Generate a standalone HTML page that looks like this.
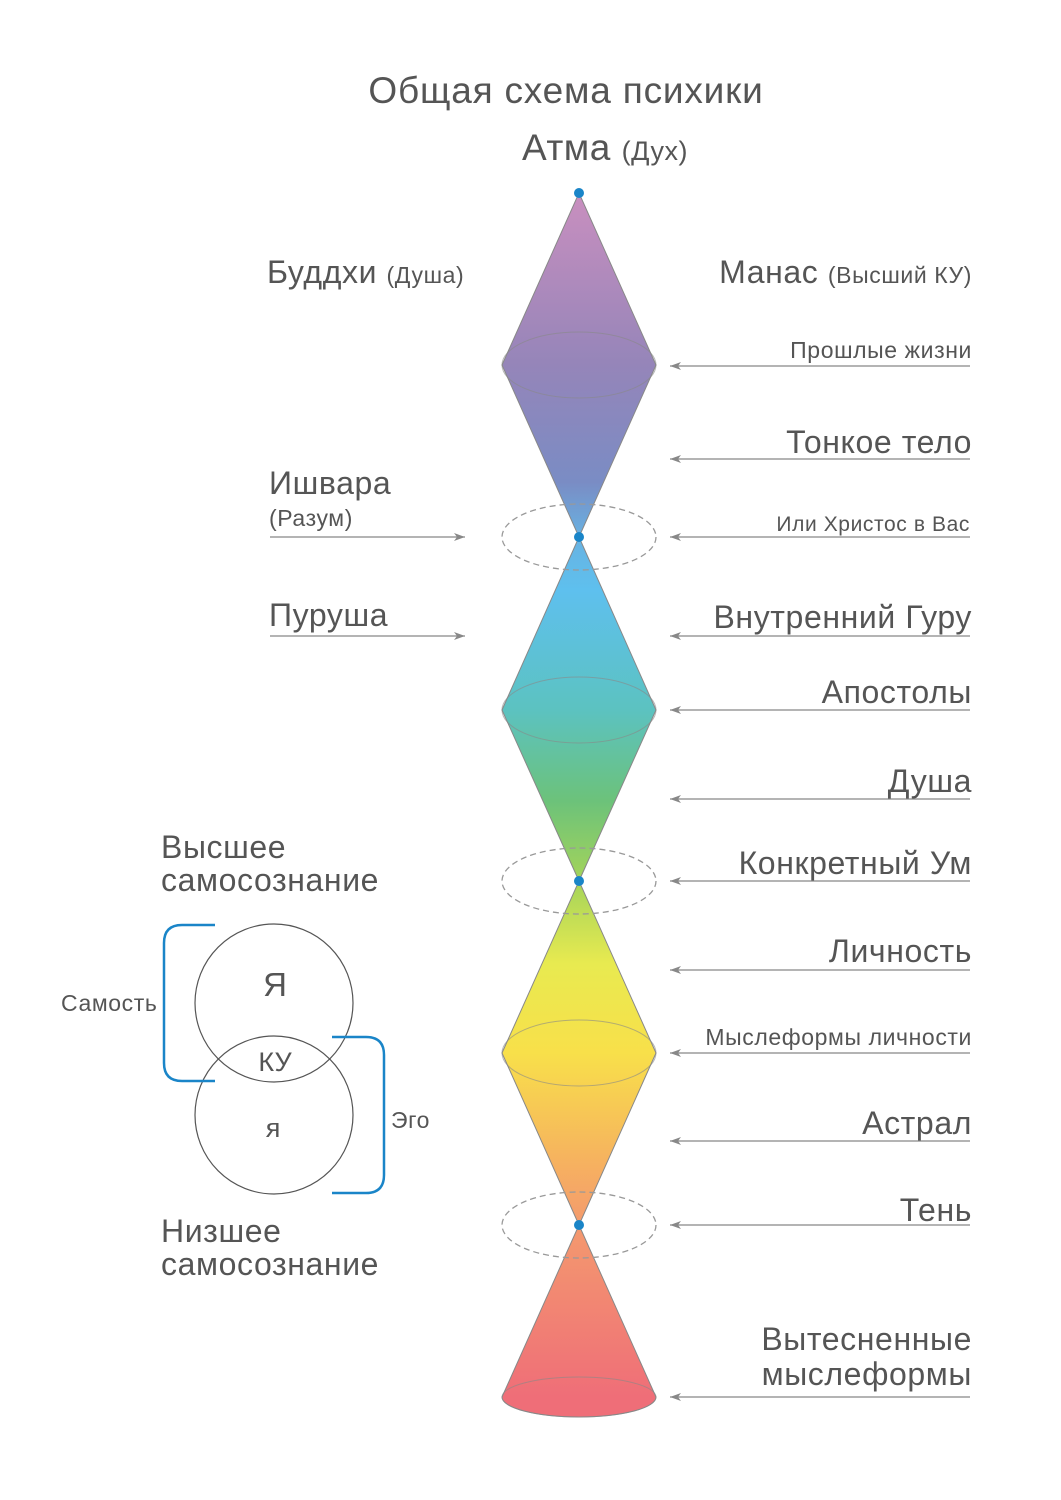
<!DOCTYPE html>
<html><head><meta charset="utf-8"><style>
html,body{margin:0;padding:0;background:#fff;}
svg{display:block;font-family:"Liberation Sans","DejaVu Sans",sans-serif;}
</style></head><body>
<svg width="1061" height="1500" viewBox="0 0 1061 1500" xmlns="http://www.w3.org/2000/svg">
<defs>
<linearGradient id="g" gradientUnits="userSpaceOnUse" x1="0" y1="193" x2="0" y2="1397">
<stop offset="0" stop-color="#c98fbf"/>
<stop offset="0.143" stop-color="#9585b9"/>
<stop offset="0.24" stop-color="#7a8cc4"/>
<stop offset="0.286" stop-color="#68b2e2"/>
<stop offset="0.33" stop-color="#5ec0ee"/>
<stop offset="0.43" stop-color="#5cc2c0"/>
<stop offset="0.505" stop-color="#6cc27a"/>
<stop offset="0.571" stop-color="#a4d45a"/>
<stop offset="0.64" stop-color="#e8ea50"/>
<stop offset="0.714" stop-color="#f8e04a"/>
<stop offset="0.80" stop-color="#f6b45e"/>
<stop offset="0.857" stop-color="#f49a6e"/>
<stop offset="1" stop-color="#ef6e78"/>
</linearGradient>
<marker id="al" markerWidth="12" markerHeight="10" refX="1" refY="5" orient="auto" markerUnits="userSpaceOnUse"><path d="M12,1 L1,5 L12,9 L9,5 Z" fill="#888"/></marker>
<marker id="ar" markerWidth="12" markerHeight="10" refX="11" refY="5" orient="auto" markerUnits="userSpaceOnUse"><path d="M0,1 L11,5 L0,9 L3,5 Z" fill="#888"/></marker>
</defs>

<text x="566" y="103" font-size="37" fill="#555" text-anchor="middle" letter-spacing="0.8">Общая схема психики</text>
<text x="522" y="160" font-size="37" fill="#555" letter-spacing="0.5">Атма <tspan font-size="27">(Дух)</tspan></text>

<g stroke="#888" stroke-width="1" fill="url(#g)">
<path d="M579,193 L656,365 L579,537 L502,365 Z"/>
<path d="M579,537 L656,710 L579,881 L502,710 Z"/>
<path d="M579,881 L656,1053 L579,1225 L502,1053 Z"/>
<path d="M579,1225 L656,1397 A77,20 0 0 1 502,1397 Z"/>
</g>
<g fill="none" stroke="#888" stroke-opacity="0.6" stroke-width="1">
<ellipse cx="579" cy="365" rx="77" ry="33"/>
<ellipse cx="579" cy="710" rx="77" ry="33"/>
<ellipse cx="579" cy="1053" rx="77" ry="33"/>
<ellipse cx="579" cy="1397" rx="77" ry="20"/>
</g>
<g fill="none" stroke="#999" stroke-width="1.3" stroke-dasharray="6,4">
<ellipse cx="579" cy="537" rx="77" ry="33"/>
<ellipse cx="579" cy="881" rx="77" ry="33"/>
<ellipse cx="579" cy="1225" rx="77" ry="33"/>
</g>
<g fill="#1a85c8">
<circle cx="579" cy="193" r="5"/><circle cx="579" cy="537" r="5"/>
<circle cx="579" cy="881" r="5"/><circle cx="579" cy="1225" r="5"/>
</g>

<g stroke="#888" stroke-width="1.3" marker-start="url(#al)">
<line x1="670" y1="366" x2="970" y2="366"/>
<line x1="670" y1="459" x2="970" y2="459"/>
<line x1="670" y1="537" x2="970" y2="537"/>
<line x1="670" y1="636" x2="970" y2="636"/>
<line x1="670" y1="710" x2="970" y2="710"/>
<line x1="670" y1="799" x2="970" y2="799"/>
<line x1="670" y1="881" x2="970" y2="881"/>
<line x1="670" y1="970" x2="970" y2="970"/>
<line x1="670" y1="1053" x2="970" y2="1053"/>
<line x1="670" y1="1141" x2="970" y2="1141"/>
<line x1="670" y1="1225" x2="970" y2="1225"/>
<line x1="670" y1="1397" x2="970" y2="1397"/>
</g>
<g stroke="#888" stroke-width="1.3">
<line x1="270" y1="537" x2="465" y2="537" marker-end="url(#ar)"/>
<line x1="270" y1="636" x2="465" y2="636" marker-end="url(#ar)"/>
</g>

<g fill="#555" text-anchor="end" letter-spacing="0.6">
<text x="972" y="283" font-size="32">Манас <tspan font-size="23">(Высший КУ)</tspan></text>
<text x="972" y="358" font-size="23">Прошлые жизни</text>
<text x="972" y="453" font-size="32">Тонкое тело</text>
<text x="970" y="531" font-size="21">Или Христос в Вас</text>
<text x="972" y="628" font-size="32">Внутренний Гуру</text>
<text x="972" y="703" font-size="32">Апостолы</text>
<text x="972" y="792" font-size="32">Душа</text>
<text x="972" y="874" font-size="32">Конкретный Ум</text>
<text x="972" y="962" font-size="32">Личность</text>
<text x="972" y="1045" font-size="23">Мыслеформы личности</text>
<text x="972" y="1134" font-size="32">Астрал</text>
<text x="972" y="1221" font-size="32">Тень</text>
<text x="972" y="1350" font-size="32">Вытесненные</text>
<text x="972" y="1385" font-size="32">мыслеформы</text>
</g>
<g fill="#555" letter-spacing="0.6">
<text x="267" y="283" font-size="32">Буддхи <tspan font-size="23">(Душа)</tspan></text>
<text x="269" y="494" font-size="32">Ишвара</text>
<text x="269" y="526" font-size="23">(Разум)</text>
<text x="269" y="626" font-size="32">Пуруша</text>
<text x="161" y="858" font-size="32">Высшее</text>
<text x="161" y="891" font-size="32">самосознание</text>
<text x="161" y="1242" font-size="32">Низшее</text>
<text x="161" y="1275" font-size="32">самосознание</text>
<text x="61" y="1011" font-size="23">Самость</text>
<text x="391" y="1128" font-size="23">Эго</text>
</g>

<g fill="none" stroke="#555" stroke-width="1.2">
<circle cx="274" cy="1003" r="79"/>
<circle cx="274" cy="1115" r="79"/>
</g>
<g fill="none" stroke="#1a85c8" stroke-width="2.5">
<path d="M215,925 L182,925 Q164,925 164,943 L164,1063 Q164,1081 182,1081 L215,1081"/>
<path d="M332,1037 L366,1037 Q384,1037 384,1055 L384,1175 Q384,1193 366,1193 L332,1193"/>
</g>
<g fill="#555" text-anchor="middle">
<text x="275" y="996" font-size="33">Я</text>
<text x="275" y="1071" font-size="27">КУ</text>
<text x="273" y="1137" font-size="27">я</text>
</g>
</svg>
</body></html>
